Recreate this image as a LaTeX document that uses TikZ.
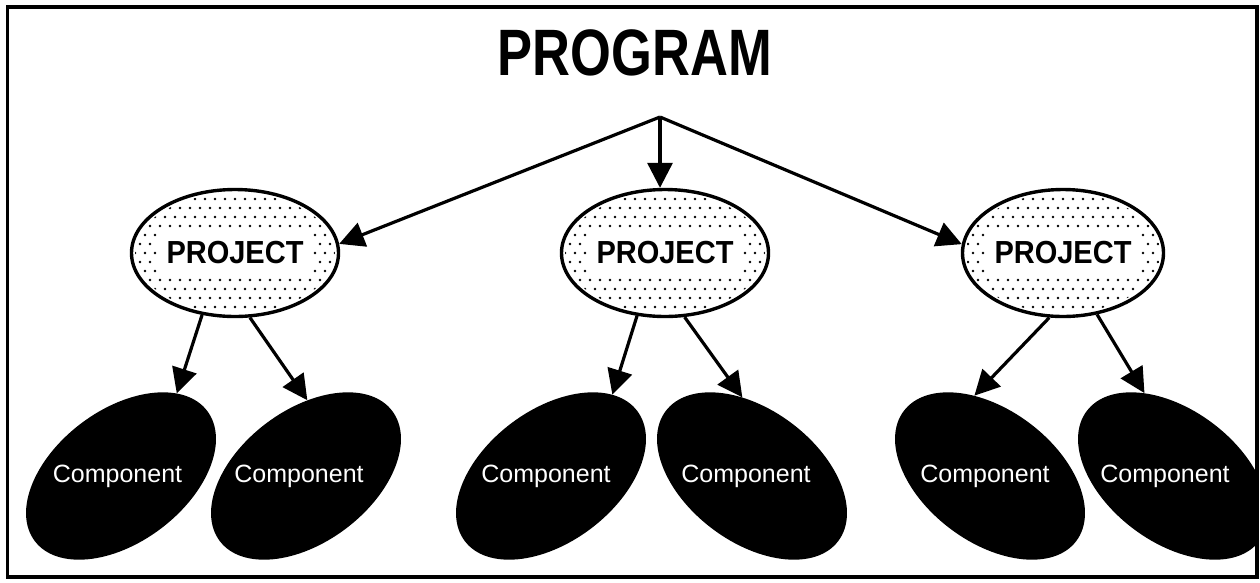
\documentclass[tikz,border=0pt]{standalone}
\usepackage{fontspec}
\usepackage{graphicx}
\setmainfont{Liberation Sans}
\usetikzlibrary{shapes.geometric,arrows.meta}
\newcommand\mystipple[2]{%
  \begin{scope}
    \clip (#1.center) ellipse [x radius=#2, y radius=60];
    \foreach \i in {-7,...,7}{%
      \foreach \j in {-11,...,11}{%
        \pgfmathsetmacro\dx{\j*10+5*mod(\i+8,2)}%
        \pgfmathsetmacro\dy{\i*9}%
        \pgfmathtruncatemacro\keep{(abs(\dx)<80 && abs(\dy)<22) ? 0 : 1}%
        \ifnum\keep=1
          \fill[black] (#1.center) ++(\dx,\dy) circle (1.45pt);
        \fi
      }}
  \end{scope}}
\begin{document}
\begin{tikzpicture}[x=1pt,y=-1pt,
  frame/.style={line width=3.5pt},
  proj/.style={ellipse, draw, line width=3.4pt, fill=white, inner sep=0pt,
    minimum width=207pt, minimum height=127pt,
    font=\fontsize{29}{29}\selectfont\bfseries},
  comp/.style={ellipse, fill=black, inner sep=0pt,
    minimum width=216pt, minimum height=132pt},
  comptext/.style={text=white, anchor=base, inner sep=0pt,
    font=\fontsize{25}{25}\selectfont},
  arr/.style={line width=3.2pt, -{Triangle[length=25pt,width=25pt]}}
]
\useasboundingbox (0,0) rectangle (1260,582);
\draw[frame] (7.5,7) rectangle (1257,577);

\node[inner sep=0pt] (prog) at (635,52.5)
  {\scalebox{1}[1.25]{\fontsize{52.5}{52.5}\selectfont\bfseries PROGRAM}};
\coordinate (apex) at (660,117);

\node[proj] (P1) at (235,253) {\scalebox{1}[1.1]{PROJECT}};
\node[proj] (P2) at (665,253) {\scalebox{1}[1.1]{PROJECT}};
\node[proj, minimum width=201pt] (P3) at (1063,253) {\scalebox{1}[1.1]{PROJECT}};
\mystipple{P1}{100}
\mystipple{P2}{100}
\mystipple{P3}{97}

\begin{scope}
  \clip (9.25,8.75) rectangle (1255.25,575.25);
  \node[comp, rotate=37]  (C1) at (121,476) {};
  \node[comp, rotate=37]  (C2) at (306,476) {};
  \node[comp, rotate=37]  (C3) at (551,476) {};
  \node[comp, rotate=-37] (C4) at (752,476) {};
  \node[comp, rotate=-37] (C5) at (990,476) {};
  \node[comp, rotate=-37] (C6) at (1173,476) {};
\end{scope}

\node[comptext] (T1) at (117.5,482) {Component};
\node[comptext] (T2) at (299,482) {Component};
\node[comptext] (T3) at (546,482) {Component};
\node[comptext] (T4) at (746,482) {Component};
\node[comptext] (T5) at (985,482) {Component};
\node[comptext] (T6) at (1165,482) {Component};

\draw[arr] (apex) -- (P1.5);
\draw[arr] (apex) -- (apex |- P2.north);
\draw[arr] (apex) -- (P3.175);

\draw[arr] (P1.242) -- (C1.19);
\draw[arr] (P1.283) -- (C2.52);
\draw[arr] (P2.246) -- (C3.16);
\draw[arr] (P2.287) -- (C4.134);
\draw[arr] (P3.258) -- (C5.138);
\draw[arr] (P3.299) -- (C6.146);
\end{tikzpicture}
\end{document}
